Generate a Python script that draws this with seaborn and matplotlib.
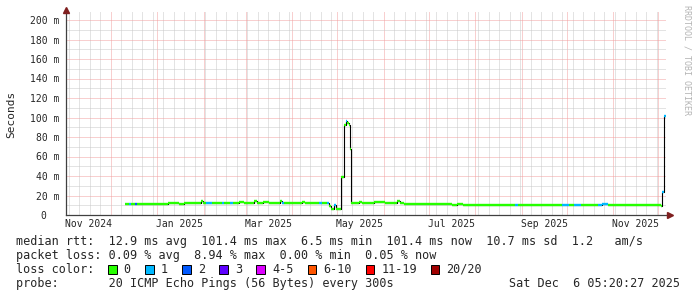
import matplotlib
matplotlib.use("Agg")
import numpy as np
import pandas as pd
import matplotlib.pyplot as plt
import matplotlib.dates as mdates
import matplotlib.transforms as mtransforms
from matplotlib.patches import Rectangle
import seaborn as sns

# ---------------- data ----------------
seg_start = [
    "2024-12-10 06:00", "2024-12-13 06:00", "2024-12-14 06:00", "2024-12-17 00:00",
    "2024-12-18 06:00", "2025-01-08 00:00", "2025-01-11 06:00", "2025-01-15 18:00",
    "2025-01-18 18:00", "2025-01-21 18:00", "2025-01-25 18:00", "2025-01-30 06:00", "2025-01-31 18:00",
    "2025-02-02 18:00", "2025-02-06 18:00", "2025-02-11 18:00", "2025-02-13 06:00", "2025-02-14 18:00",
    "2025-02-18 18:00", "2025-02-20 18:00", "2025-02-24 18:00", "2025-02-27 18:00", "2025-03-06 18:00",
    "2025-03-08 06:00", "2025-03-12 18:00", "2025-03-16 18:00", "2025-03-23 18:00", "2025-03-25 06:00",
    "2025-03-26 18:00", "2025-04-01 18:00", "2025-04-07 18:00", "2025-04-09 06:00", "2025-04-13 18:00",
    "2025-04-18 18:00", "2025-04-20 18:00", "2025-04-24 06:00", "2025-04-25 18:00", "2025-04-26 18:00",
    "2025-04-28 18:00", "2025-04-30 06:00", "2025-05-03 20:00", "2025-05-05 10:00",
    "2025-05-07 00:00", "2025-05-07 20:00", "2025-05-08 18:00", "2025-05-09 10:00",
    "2025-05-09 22:00", "2025-05-13 18:00", "2025-05-15 18:00", "2025-05-17 18:00", "2025-05-25 18:00",
    "2025-06-01 18:00", "2025-06-09 18:00", "2025-06-11 18:00", "2025-06-14 18:00", "2025-06-17 18:00",
    "2025-07-16 18:00", "2025-07-19 18:00", "2025-07-23 18:00", "2025-07-26 18:00", "2025-08-27 18:00",
    "2025-08-29 18:00", "2025-09-27 18:00", "2025-10-02 18:00", "2025-10-05 18:00", "2025-10-10 18:00",
    "2025-10-21 18:00", "2025-10-24 18:00", "2025-10-28 18:00", "2025-12-02 18:00", "2025-12-03 10:00",
    "2025-12-04 18:00",
]
rtt_ms = [
    11.6, 11.6, 11.6, 11.6,
    11.6, 12.8, 11.9, 11.6,
    12.4, 11.8, 12.2, 14.0, 12.6,
    12.6, 12.6, 12.3, 12.3, 12.3,
    12.3, 12.3, 13.0, 12.3, 14.0,
    12.5, 13.0, 12.6, 14.0, 12.3,
    12.3, 12.7, 13.6, 12.5, 12.0,
    12.1, 12.2, 12.0, 9.5, 6.5,
    10.5, 6.5, 39.0, 92.0,
    96.7, 94.7, 92.0, 67.4,
    12.6, 12.0, 13.3, 12.8, 13.1,
    12.7, 14.0, 12.5, 11.5, 10.9,
    10.0, 10.9, 10.0, 10.6, 10.6,
    10.6, 10.6, 10.6, 10.2, 10.6,
    10.0, 10.8, 10.5, 9.5, 24.0,
    101.4,
]
loss_class = [
    0, 1, 0, 2,
    0, 0, 0, 0,
    0, 0, 0, 0, 0,
    1, 0, 0, 1, 0,
    1, 0, 0, 0, 0,
    0, 0, 0, 0, 1,
    0, 0, 0, 0, 0,
    1, 0, 1, 0, 0,
    1, 0, 0, 0,
    1, 0, 0, 0,
    0, 0, 0, 0, 0,
    0, 0, 0, 0, 0,
    0, 0, 0, 0, 1,
    0, 1, 0, 1, 0,
    1, 1, 0, 0, 1,
    1,
]
data_end = "2025-12-05 22:00"

loss_labels = ["0", "1", "2", "3", "4-5", "6-10", "11-19", "20/20"]
loss_colors = ["#26ff00", "#00b8ff", "#0059ff", "#5e00ff", "#dd00ff",
               "#ff5500", "#ff0000", "#a00000"]

y_ticks = [0, 20, 40, 60, 80, 100, 120, 140, 160, 180, 200]
y_tick_labels = ["0  ", "20 m", "40 m", "60 m", "80 m", "100 m", "120 m",
                 "140 m", "160 m", "180 m", "200 m"]
month_labels = ["Nov 2024", "Jan 2025", "Mar 2025", "May 2025", "Jul 2025",
                "Sep 2025", "Nov 2025"]
month_label_dates = ["2024-11-16", "2025-01-16", "2025-03-16", "2025-05-16",
                     "2025-07-16", "2025-09-16", "2025-11-16"]

line_rtt = "median rtt:  12.9 ms avg  101.4 ms max  6.5 ms min  101.4 ms now  10.7 ms sd  1.2   am/s"
line_loss = "packet loss: 0.09 % avg  8.94 % max  0.00 % min  0.05 % now"
line_probe = "probe:       20 ICMP Echo Pings (56 Bytes) every 300s"
stamp = "Sat Dec  6 05:20:27 2025"
graph_end = pd.Timestamp("2025-12-06 05:20:27")
graph_start = graph_end - pd.Timedelta(days=400)

# ---------------- figure ----------------
sns.set_theme(style="white")
plt.rcParams["font.family"] = ["DejaVu Sans Mono", "DejaVu Sans"]

W, H = 697, 297
fig = plt.figure(figsize=(W / 100, H / 100), dpi=100)
fig.patch.set_facecolor("white")
ax = fig.add_axes([66 / W, 1 - 215 / H, 600 / W, 203 / H])
ax.set_facecolor("white")

ymax = 203 / 0.975
ax.set_xlim(graph_start, graph_end)
ax.set_ylim(0, ymax)

# grid (dotted)
gray = "#c8c8c8"
red = "#f2a0a0"
ax.xaxis.set_major_locator(mdates.MonthLocator())
ax.xaxis.set_minor_locator(mdates.WeekdayLocator(byweekday=mdates.SU))
ax.set_yticks(y_ticks)
ax.set_yticks(np.arange(0, 210, 10), minor=True)
ax.grid(which="minor", color=gray, lw=0.72, ls=(0, (1, 1)))
ax.grid(which="major", color=red, lw=0.72, ls=(0, (1, 1)))
ax.set_axisbelow(True)
ax.set_xticklabels([])
ax.tick_params(axis="x", which="both", length=0)
ax.tick_params(axis="y", which="both", length=0, pad=5, labelsize=7)
ax.set_yticklabels(y_tick_labels, fontfamily="DejaVu Sans Mono")

# month labels centred mid-month
trans = mtransforms.blended_transform_factory(ax.transData, ax.transAxes)
for d, lab in zip(month_label_dates, month_labels):
    ax.text(mdates.date2num(pd.Timestamp(d)), -0.02, lab, transform=trans,
            ha="center", va="top", fontsize=7, fontfamily="DejaVu Sans Mono")

# median rtt: black step line + loss-coloured segments
t0 = pd.to_datetime(seg_start, format="mixed")
t1 = pd.to_datetime(seg_start[1:] + [data_end], format="mixed")
df = pd.DataFrame({"time": list(t0) + [pd.Timestamp(data_end)],
                   "rtt": rtt_ms + [rtt_ms[-1]]})
sns.lineplot(data=df, x="time", y="rtt", drawstyle="steps-post", color="black",
             lw=0.8, estimator=None, sort=False, ax=ax, zorder=3)
ax.hlines(rtt_ms, mdates.date2num(t0), mdates.date2num(t1),
          colors=[loss_colors[c] for c in loss_class], lw=1.7, zorder=4)
ax.set_xlabel("")
ax.set_ylabel("")

# axes spines & arrows
for s in ["top", "right"]:
    ax.spines[s].set_visible(False)
for s in ["left", "bottom"]:
    ax.spines[s].set_color("#404040")
    ax.spines[s].set_linewidth(0.9)
ax.plot([1.006], [0], marker=">", color="#7f1f1f", ms=4.5, transform=ax.transAxes,
        clip_on=False, zorder=6)
ax.plot([0], [1.012], marker="^", color="#7f1f1f", ms=4.5, transform=ax.transAxes,
        clip_on=False, zorder=6)


def fx(px):
    return px / W


def fy(py):
    return 1 - py / H


fig.text(fx(11), fy(114), "Seconds", rotation=90, ha="center", va="center",
         fontsize=8, fontfamily="DejaVu Sans Mono")
fig.text(fx(687), fy(5), "RRDTOOL / TOBI OETIKER", rotation=270, ha="center",
         va="top", fontsize=6, color="#b4b4b4", fontfamily="DejaVu Sans Mono")

fs = 8.45
fig.text(fx(16), fy(245.5), line_rtt, fontsize=fs, va="baseline")
fig.text(fx(16), fy(259.3), line_loss, fontsize=fs, va="baseline")
fig.text(fx(16), fy(273), "loss color:", fontsize=fs, va="baseline")
fig.text(fx(16), fy(286.7), line_probe, fontsize=fs, va="baseline")
fig.text(fx(680), fy(286.7), stamp, fontsize=fs, va="baseline", ha="right")

x = 108.0
for lab, col in zip(loss_labels, loss_colors):
    fig.patches.append(Rectangle((fx(x), fy(273.5)), 8.5 / W, 9 / H,
                                 transform=fig.transFigure, facecolor=col,
                                 edgecolor="black", lw=0.7))
    fig.text(fx(x + 15.6), fy(273), lab, fontsize=fs, va="baseline")
    x += 15.6 + len(lab) * 7.0 + 14.5

fig.savefig("out.png", dpi=100)
